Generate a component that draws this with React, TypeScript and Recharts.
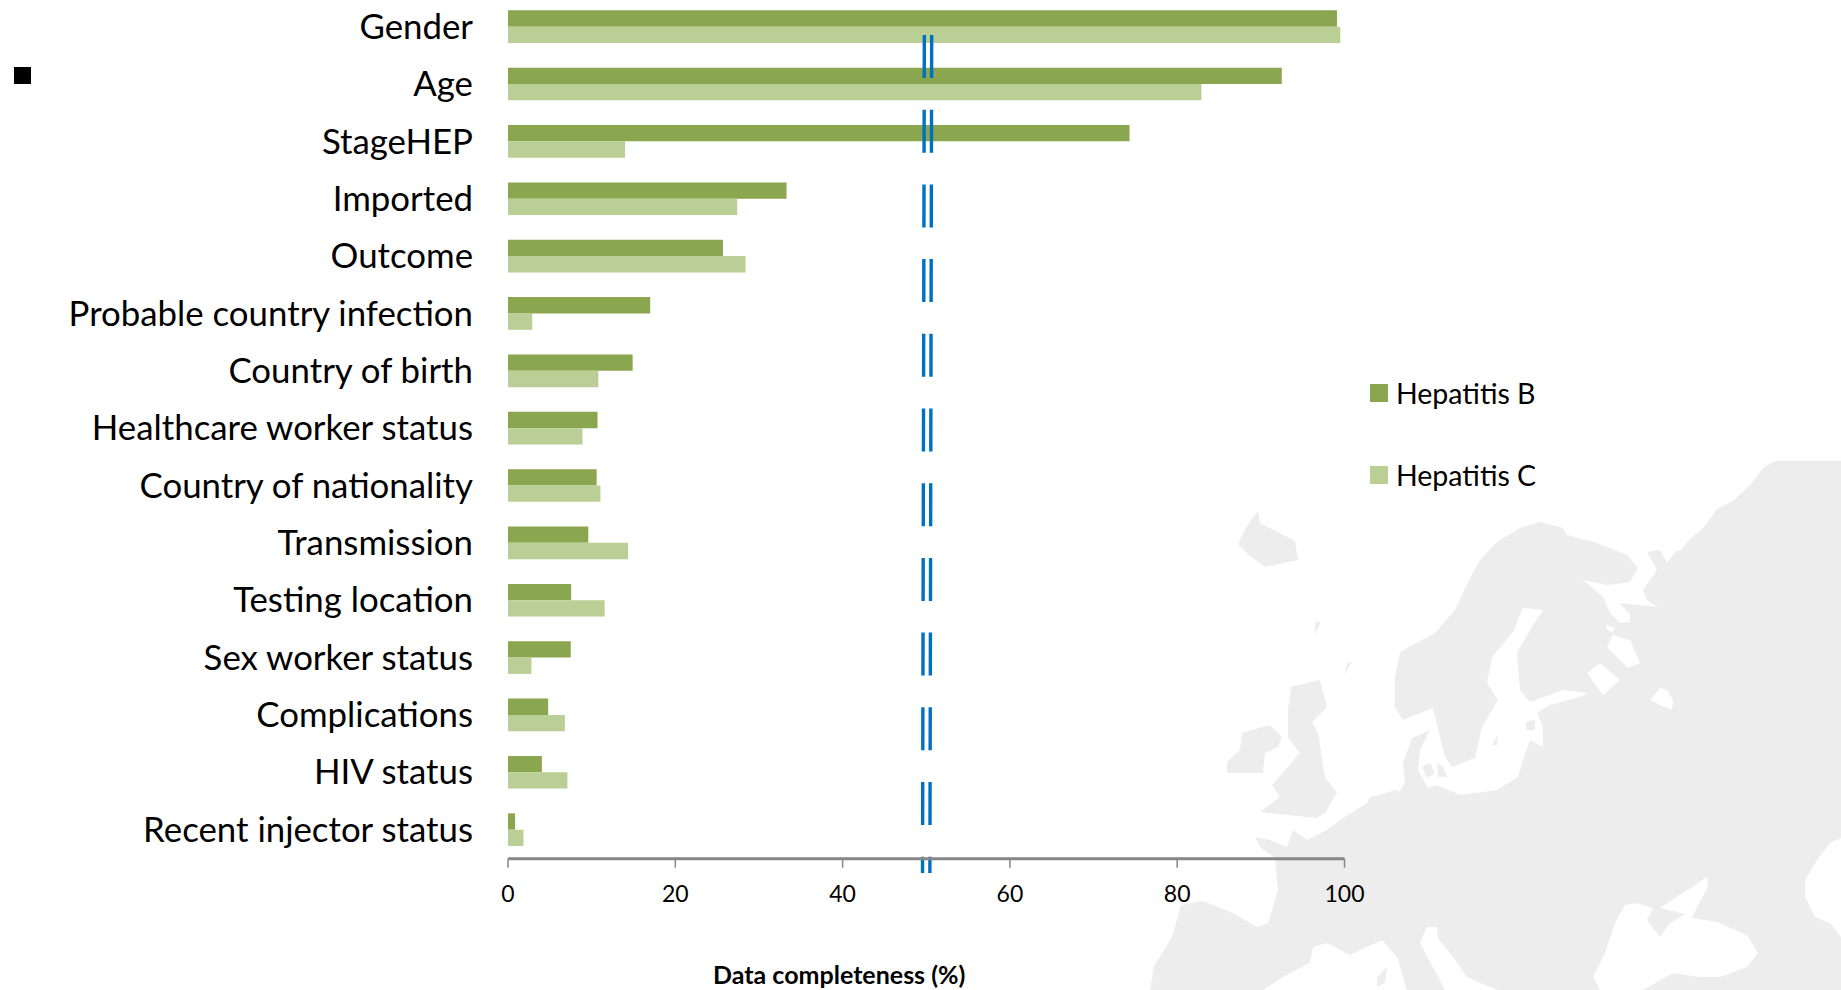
import React from "react";
import { BarChart, Bar, XAxis, YAxis, Legend, ReferenceLine, Label } from "recharts";

// Completeness of each surveillance variable, in percent.
const categories = [
  "Gender", "Age", "StageHEP", "Imported", "Outcome", "Probable country infection",
  "Country of birth", "Healthcare worker status", "Country of nationality", "Transmission",
  "Testing location", "Sex worker status", "Complications", "HIV status", "Recent injector status",
];
const hepatitisB = [99.1, 92.5, 74.3, 33.3, 25.7, 17.0, 14.9, 10.7, 10.6, 9.6, 7.55, 7.5, 4.8, 4.05, 0.85];
const hepatitisC = [99.5, 82.9, 14.0, 27.4, 28.4, 2.9, 10.8, 8.9, 11.05, 14.35, 11.55, 2.8, 6.8, 7.1, 1.85];
const xTicks = [0, 20, 40, 60, 80, 100];

// Hand-drawn double marker near the 50% mark.
const markerValues = [49.77, 50.65];

const rows = categories.map((name, i) => ({ name, b: hepatitisB[i], c: hepatitisC[i] }));

const GREEN_DARK = "#8AA64F";
const GREEN_LIGHT = "#B9CF95";
const BLUE = "#0070C0";
const LAND_GREY = "#EDEDED";
const FONT = "Lato, 'Open Sans', sans-serif";

// Europe silhouette behind the plot, in page pixels.
const LAND =
  "M1841,461 L1775,461 L1764,467 L1751,484 L1734,500 L1716,510 L1705,526 L1690,539 L1680,551 " +
  "L1677,550 L1667,563 L1660,550 L1647,552 L1657,570 L1643,590 L1647,600 L1657,607 L1620,603 L1630,615 L1630,622 L1620,623 L1610,613 L1603,597 L1583,580 " +
  "L1607,585 L1630,582 L1638,568 L1627,555 L1597,543 L1567,535 L1563,528 L1540,522 L1520,528 L1497,542 L1480,560 L1468,582 L1455,610 L1435,633 L1400,652 L1395,677 L1395,707 L1403,720 L1433,708 " +
  "L1440,737 L1445,757 L1452,767 L1475,758 L1482,727 L1498,700 L1487,683 L1492,657 L1513,632 L1523,608 L1543,610 L1530,630 L1517,653 L1520,690 L1530,702 L1563,690 L1588,693 L1580,697 L1550,705 L1537,713 L1543,727 L1543,747 L1530,740 L1523,760 L1518,777 L1497,790 L1460,795 L1437,785 " +
  "L1428,788 L1418,770 L1420,750 L1430,730 L1412,738 L1403,763 L1405,783 L1398,793 " +
  "L1397,790 L1370,797 L1367,803 L1343,818 L1327,830 L1307,840 L1293,830 L1287,847 L1270,840 L1255,837 L1260,847 L1275,858 L1278,890 L1268,923 L1257,927 L1233,913 L1203,901 L1181,905 L1172,937 L1154,966 L1150,990 " +
  "L1263,990 L1283,977 L1310,963 L1313,947 L1327,943 L1350,955 L1382,940 L1397,957 L1407,990 " +
  "L1445,990 L1420,943 L1427,927 L1437,927 L1438,938 L1453,957 L1467,977 L1497,990 " +
  "L1600,990 L1593,977 L1605,953 L1615,923 L1625,905 L1637,903 L1653,908 L1647,920 L1660,937 L1670,923 L1685,914 L1660,908 L1683,893 L1707,877 L1708,887 L1697,907 L1692,918 " +
  "L1717,922 L1747,935 L1758,953 L1747,967 L1720,977 L1700,977 L1673,973 L1643,990 " +
  "L1841,990 L1841,937 L1830,923 L1815,917 L1805,897 L1805,880 L1817,860 L1830,843 L1841,838 Z";
const LAKES =
  "M1587,673 L1600,663 L1620,680 L1603,695 Z " +
  "M1607,647 L1613,635 L1630,640 L1640,663 L1628,668 L1617,657 Z " +
  "M1607,625 L1615,628 L1612,632 L1606,629 Z " +
  "M1650,700 L1660,688 L1667,690 L1673,700 L1672,710 L1660,705 Z";
const ISLANDS = [
  // Iceland
  "M1258,511 L1260,523 L1295,541 L1298,560 L1265,567 L1249,555 L1238,544 L1247,526 Z",
  // Ireland
  "M1242,733 L1270,725 L1282,737 L1278,747 L1265,753 L1263,773 L1227,773 L1227,762 L1240,750 Z",
  // Great Britain
  "M1291,687 L1320,680 L1327,707 L1312,722 L1318,733 L1325,777 L1337,793 L1325,813 L1317,818 L1260,812 L1280,797 L1272,785 L1300,753 L1288,737 L1288,710 Z",
  // Shetland and Faroe
  "M1316,621 L1321,623 L1314,635 Z",
  "M1348,662 L1352,662 L1344,675 Z",
  // Baltic and Danish islands
  "M1498,735 L1492,745 L1497,745 Z",
  "M1525,722 L1535,720 L1535,730 L1527,730 Z",
  "M1422,767 L1430,763 L1435,773 L1427,778 Z",
  "M1437,763 L1443,767 L1447,777 L1438,777 Z",
  // Corsica and Sardinia
  "M1387,967 L1377,977 L1377,987 L1385,983 Z",
];

function EuropeBackdrop() {
  return (
    <svg width={1841} height={990} style={{ position: "absolute", left: 0, top: 0 }}>
      <path d={LAND + " " + LAKES} fill={LAND_GREY} fillRule="evenodd" />
      {ISLANDS.map((d) => (
        <path key={d} d={d} fill={LAND_GREY} />
      ))}
    </svg>
  );
}

function SeriesKey({ payload }: { payload?: Array<{ value: string; color: string }> }) {
  return (
    <div style={{ fontFamily: FONT, fontSize: 28.5, color: "#000" }}>
      {(payload ?? []).map((item) => (
        <div key={item.value} style={{ display: "flex", alignItems: "center", height: 82 }}>
          <span style={{ width: 18, height: 18, background: item.color, marginRight: 8 }} />
          {item.value}
        </div>
      ))}
    </div>
  );
}

// Long-dashed stroke that keeps the scale's x but runs past the plot's bottom edge,
// leaning about two pixels to the left on the way down.
function LeaningDash(props: any) {
  return (
    <line
      x1={props.x1}
      y1={55}
      x2={props.x1 - 1.8}
      y2={893}
      stroke={BLUE}
      strokeWidth={3.4}
      strokeDasharray="43 31.7"
    />
  );
}

export default function App() {
  return (
    <div style={{ position: "absolute", left: 0, top: 0, width: 1841, height: 990, overflow: "hidden", background: "#fff" }}>
      <EuropeBackdrop />
      <div style={{ position: "absolute", left: 14, top: 67, width: 17, height: 17, background: "#000" }} />
      <div style={{ position: "absolute", left: 0, top: -20 }}>
        <BarChart
          width={1841}
          height={1010}
          data={rows}
          layout="vertical"
          barSize={16.33}
          barGap={0}
          margin={{ top: 18.33, right: 496.5, bottom: 0, left: 0 }}
        >
          <XAxis
            type="number"
            dataKey="b"
            domain={[0, 100]}
            ticks={xTicks}
            height={131.33}
            tickSize={9}
            tickMargin={18}
            interval={0}
            stroke="#868686"
            tick={{ fill: "#000", fontSize: 23, fontFamily: FONT }}
            axisLine={{ stroke: "#868686", strokeWidth: 3 }}
            tickLine={{ stroke: "#868686", strokeWidth: 1.5 }}
          >
            <Label
              value="Data completeness (%)"
              position="insideBottom"
              offset={6}
              dx={-87}
              style={{ fill: "#000", fontSize: 25, fontWeight: 700, fontFamily: FONT }}
            />
          </XAxis>
          <YAxis
            type="category"
            dataKey="name"
            width={508}
            interval={0}
            tickSize={0}
            tickMargin={35}
            axisLine={false}
            tickLine={false}
            tick={{ fill: "#000", fontSize: 34.8, fontFamily: FONT, dy: -0.5 }}
          />
          <Bar dataKey="b" name="Hepatitis B" fill={GREEN_DARK} isAnimationActive={false} />
          <Bar dataKey="c" name="Hepatitis C" fill={GREEN_LIGHT} isAnimationActive={false} />
          {markerValues.map((value) => (
            <ReferenceLine key={value} x={value} ifOverflow="visible" shape={LeaningDash} />
          ))}
          <Legend
            layout="vertical"
            align="center"
            verticalAlign="middle"
            wrapperStyle={{ left: 1370, top: 372, width: 240 }}
            content={(props: any) => <SeriesKey payload={props.payload} />}
          />
        </BarChart>
      </div>
    </div>
  );
}
